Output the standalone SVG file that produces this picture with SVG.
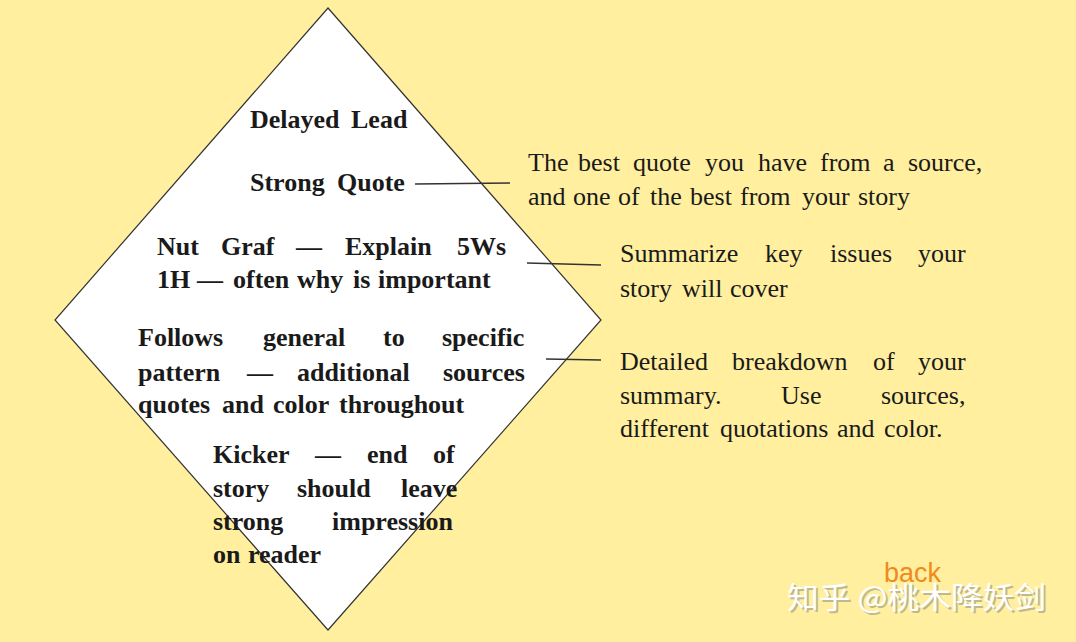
<svg xmlns="http://www.w3.org/2000/svg" width="1076" height="642" viewBox="0 0 1076 642">
<style>
.b{font-family:"Liberation Serif",serif;font-weight:bold;font-size:26px;fill:#1a1a1a}
.r{font-family:"Liberation Serif",serif;font-size:26px;fill:#1a1a1a}
.c{stroke:#333;stroke-width:1.5;fill:none}
</style>
<rect width="1076" height="642" fill="#FFEF9F"/>
<g id="diamond">
<polygon points="328,8 601,320 328,630 55,320" fill="#fff" stroke="#333" stroke-width="1.2"/>
</g>
<g id="connectors">
<line class="c" x1="415" y1="184" x2="510" y2="183"/>
<line class="c" x1="527" y1="263" x2="601" y2="265"/>
<line class="c" x1="546" y1="359" x2="601" y2="360"/>
</g>
<g id="lead"><text class="b" y="128"><tspan x="250">Delayed</tspan><tspan x="351">Lead</tspan></text></g>
<g id="quote"><text class="b" y="191"><tspan x="250">Strong</tspan><tspan x="337">Quote</tspan></text></g>
<g id="nutgraf">
<text class="b" y="255"><tspan x="157">Nut</tspan><tspan x="221">Graf</tspan><tspan x="296">—</tspan><tspan x="345">Explain</tspan><tspan x="457">5Ws</tspan></text>
<text class="b" y="288"><tspan x="157">1H</tspan><tspan x="197">—</tspan><tspan x="233">often</tspan><tspan x="297">why</tspan><tspan x="353">is</tspan><tspan x="378">important</tspan></text>
</g>
<g id="body">
<text class="b" y="346"><tspan x="138">Follows</tspan><tspan x="263">general</tspan><tspan x="383">to</tspan><tspan x="442">specific</tspan></text>
<text class="b" y="381"><tspan x="138">pattern</tspan><tspan x="247">—</tspan><tspan x="297">additional</tspan><tspan x="443">sources</tspan></text>
<text class="b" y="413"><tspan x="138">quotes</tspan><tspan x="222">and</tspan><tspan x="273">color</tspan><tspan x="339">throughout</tspan></text>
</g>
<g id="kicker">
<text class="b" y="463"><tspan x="213">Kicker</tspan><tspan x="315">—</tspan><tspan x="367">end</tspan><tspan x="433">of</tspan></text>
<text class="b" y="497"><tspan x="213">story</tspan><tspan x="297">should</tspan><tspan x="401">leave</tspan></text>
<text class="b" y="530"><tspan x="213">strong</tspan><tspan x="332">impression</tspan></text>
<text class="b" y="563"><tspan x="213">on</tspan><tspan x="248">reader</tspan></text>
</g>
<g id="desc1">
<text class="r" y="171"><tspan x="528">The</tspan><tspan x="578">best</tspan><tspan x="633">quote</tspan><tspan x="705">you</tspan><tspan x="758">have</tspan><tspan x="820">from</tspan><tspan x="883">a</tspan><tspan x="908">source,</tspan></text>
<text class="r" y="205"><tspan x="528">and</tspan><tspan x="573">one</tspan><tspan x="618">of</tspan><tspan x="650">the</tspan><tspan x="690">best</tspan><tspan x="740">from</tspan><tspan x="802">your</tspan><tspan x="858">story</tspan></text>
</g>
<g id="desc2">
<text class="r" y="262"><tspan x="620">Summarize</tspan><tspan x="765">key</tspan><tspan x="830">issues</tspan><tspan x="918">your</tspan></text>
<text class="r" y="297"><tspan x="620">story</tspan><tspan x="682">will</tspan><tspan x="730">cover</tspan></text>
</g>
<g id="desc3">
<text class="r" y="370"><tspan x="620">Detailed</tspan><tspan x="732">breakdown</tspan><tspan x="873">of</tspan><tspan x="918">your</tspan></text>
<text class="r" y="404"><tspan x="620">summary.</tspan><tspan x="781">Use</tspan><tspan x="881">sources,</tspan></text>
<text class="r" y="437"><tspan x="620">different</tspan><tspan x="720">quotations</tspan><tspan x="837">and</tspan><tspan x="884">color.</tspan></text>
</g>
<g id="back"><text x="884" y="582" font-family="Liberation Sans,Arial,sans-serif" font-size="27" fill="#F08A1C">back</text></g>
<g id="watermark">
<text x="789" y="610" font-family="'Noto Sans CJK SC',sans-serif" font-size="30" fill="#777" opacity="0.45" textLength="259" lengthAdjust="spacingAndGlyphs">知乎 @桃木降妖剑</text>
<text x="787" y="608" font-family="'Noto Sans CJK SC',sans-serif" font-size="30" fill="#fff" textLength="259" lengthAdjust="spacingAndGlyphs">知乎 @桃木降妖剑</text>
</g>
</svg>
